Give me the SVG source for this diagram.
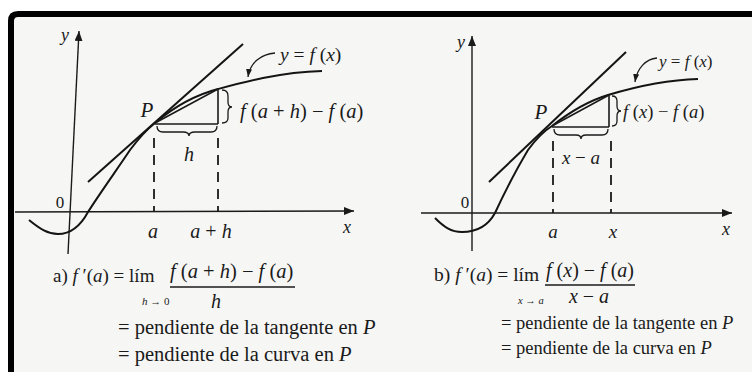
<svg xmlns="http://www.w3.org/2000/svg" width="752" height="372" viewBox="0 0 752 372" font-family="'Liberation Serif','Times New Roman',serif">
<defs>
<style>
text{font-family:"Liberation Serif","Times New Roman",serif;fill:#1a1a1a}
.i{font-style:italic}
.ax{stroke:#1a1a1a;stroke-width:1.4;fill:none}
.cv{stroke:#141414;stroke-width:2;fill:none}
.tg{stroke:#141414;stroke-width:2;fill:none}
.th{stroke:#1a1a1a;stroke-width:1.6;fill:none}
.ds{stroke:#1a1a1a;stroke-width:1.8;fill:none;stroke-dasharray:10 7}
.br{stroke:#1a1a1a;stroke-width:1.3;fill:none}
</style>
<marker id="ah" viewBox="0 0 10 8" refX="10" refY="4" markerWidth="10" markerHeight="8" markerUnits="userSpaceOnUse" orient="auto"><path d="M0,0 L10,4 L0,8 z" fill="#1a1a1a"/></marker>
<marker id="sh" viewBox="0 0 8 6" refX="8" refY="3" markerWidth="8" markerHeight="6" markerUnits="userSpaceOnUse" orient="auto"><path d="M0,0 L8,3 L0,6 z" fill="#1a1a1a"/></marker>
</defs>
<rect width="752" height="372" fill="#ffffff"/>
<rect x="14" y="17" width="738" height="355" fill="#f6f6f5"/>
<path d="M11,372 L11,21 Q11,14 18,14 L752,14" stroke="#000" stroke-width="6" fill="none"/>

<g id="panel-a">
  <g id="a-axes">
    <line class="ax" x1="68" y1="254" x2="79" y2="31" marker-end="url(#ah)"/>
    <line class="ax" x1="15" y1="212" x2="354" y2="211" marker-end="url(#ah)"/>
    <text class="i" x="65" y="41" font-size="18" text-anchor="middle">y</text>
    <text class="i" x="347" y="233" font-size="18" text-anchor="middle">x</text>
    <text x="60" y="208" font-size="17" text-anchor="middle">0</text>
  </g>
  <g id="a-curve">
    <path class="cv" d="M29,220 C40,229 48,234 58,234 C72,234 81,225 88,212 C98,196 118,168 130,150 C139,138 146,130 155,123 C175,106 195,95 218,89 C240,83 280,72 322,71"/>
  </g>
  <g id="a-tangent">
    <line class="tg" x1="88" y1="182" x2="243" y2="44"/>
  </g>
  <g id="a-secant">
    <line class="th" x1="155" y1="123" x2="218" y2="89"/>
    <line class="th" x1="155" y1="124" x2="218" y2="124"/>
    <line class="th" x1="218" y1="89" x2="218" y2="124"/>
    <line class="ds" x1="154" y1="138" x2="154" y2="211"/>
    <line class="ds" x1="218" y1="138" x2="218" y2="211"/>
  </g>
  <g id="a-braces">
    <path class="br" d="M157,126 Q157,132 163,132 L183,132 Q189,132 189,136 Q189,132 195,132 L211,132 Q217,132 217,126"/>
    <path class="br" d="M222,90 Q228,90 228,96 L228,102 Q228,107 232,107 Q228,107 228,112 L228,118 Q228,123 222,123"/>
  </g>
  <g id="a-labels">
    <text class="i" x="147" y="117" font-size="21" text-anchor="middle">P</text>
    <text class="i" x="189" y="161" font-size="20" text-anchor="middle">h</text>
    <text x="153" y="238" font-size="20" text-anchor="middle" class="i">a</text>
    <text x="211" y="238" font-size="20" text-anchor="middle"><tspan class="i">a</tspan> + <tspan class="i">h</tspan></text>
    <text x="240" y="118" font-size="20.5"><tspan class="i">f</tspan> (<tspan class="i">a</tspan> + <tspan class="i">h</tspan>) − <tspan class="i">f</tspan> (<tspan class="i">a</tspan>)</text>
    <text x="280" y="61" font-size="19.5"><tspan class="i">y</tspan> = <tspan class="i">f</tspan> (<tspan class="i">x</tspan>)</text>
  </g>
  <g id="a-formula">
    <text x="53" y="282" font-size="19">a) <tspan class="i">f</tspan> ′(<tspan class="i">a</tspan>) = lím</text>
    <text x="142" y="305" font-size="11"><tspan class="i">h</tspan> → 0</text>
    <text x="170" y="278" font-size="20.5"><tspan class="i">f</tspan> (<tspan class="i">a</tspan> + <tspan class="i">h</tspan>) − <tspan class="i">f</tspan> (<tspan class="i">a</tspan>)</text>
    <line class="th" x1="170" y1="287" x2="295" y2="287" stroke-width="1.2"/>
    <text class="i" x="216" y="308" font-size="20" text-anchor="middle">h</text>
    <text x="118" y="334" font-size="20.5">= pendiente de la tangente en <tspan class="i">P</tspan></text>
    <text x="118" y="361" font-size="20.5">= pendiente de la curva en <tspan class="i">P</tspan></text>
  </g>
</g>

<g id="panel-b">
  <g id="b-axes">
    <line class="ax" x1="472" y1="251" x2="472" y2="36" marker-end="url(#ah)"/>
    <line class="ax" x1="421" y1="213" x2="732" y2="213" marker-end="url(#ah)"/>
    <text class="i" x="461" y="48" font-size="18" text-anchor="middle">y</text>
    <text class="i" x="726" y="235" font-size="18" text-anchor="middle">x</text>
    <text x="465" y="208" font-size="17" text-anchor="middle">0</text>
  </g>
  <g id="b-curve">
    <path class="cv" d="M435,218 C444,227 451,232 462,232 C479,232 489,224 495,213 C502,198 516,170 528,150 C536,139 544,131 552,126 C571,111 588,101 608,95 C628,89 660,80 698,79"/>
  </g>
  <g id="b-tangent">
    <line class="tg" x1="489" y1="182" x2="626" y2="52"/>
  </g>
  <g id="b-secant">
    <line class="th" x1="552" y1="126" x2="609" y2="95"/>
    <line class="th" x1="552" y1="127" x2="609" y2="127"/>
    <line class="th" x1="609" y1="95" x2="609" y2="127"/>
    <line class="ds" x1="553" y1="141" x2="553" y2="213"/>
    <line class="ds" x1="611" y1="141" x2="611" y2="213"/>
  </g>
  <g id="b-braces">
    <path class="br" d="M554,129 Q554,135 560,135 L576,135 Q581,135 581,139 Q581,135 586,135 L602,135 Q608,135 608,129"/>
    <path class="br" d="M612,96 Q617,96 617,101 L617,106 Q617,111 621,111 Q617,111 617,116 L617,121 Q617,126 612,126"/>
  </g>
  <g id="b-labels">
    <text class="i" x="541" y="119" font-size="21" text-anchor="middle">P</text>
    <text x="581" y="164" font-size="19" text-anchor="middle"><tspan class="i">x</tspan> − <tspan class="i">a</tspan></text>
    <text class="i" x="553" y="238" font-size="19" text-anchor="middle">a</text>
    <text class="i" x="613" y="238" font-size="19" text-anchor="middle">x</text>
    <text x="623" y="118" font-size="18.5"><tspan class="i">f</tspan> (<tspan class="i">x</tspan>) − <tspan class="i">f</tspan> (<tspan class="i">a</tspan>)</text>
    <text x="659" y="67" font-size="17"><tspan class="i">y</tspan> = <tspan class="i">f</tspan> (<tspan class="i">x</tspan>)</text>
  </g>
  <g id="b-formula">
    <text x="434" y="281" font-size="19.5">b) <tspan class="i">f</tspan> ′(<tspan class="i">a</tspan>) = lím</text>
    <text class="i" x="518" y="304" font-size="10.5">x → a</text>
    <text x="546" y="277" font-size="20"><tspan class="i">f</tspan> (<tspan class="i">x</tspan>) − <tspan class="i">f</tspan> (<tspan class="i">a</tspan>)</text>
    <line class="th" x1="545" y1="285" x2="635" y2="285" stroke-width="1.2"/>
    <text x="589" y="303" font-size="20" text-anchor="middle"><tspan class="i">x</tspan> − <tspan class="i">a</tspan></text>
    <text x="501" y="329" font-size="18.5">= pendiente de la tangente en <tspan class="i">P</tspan></text>
    <text x="501" y="354" font-size="18.5">= pendiente de la curva en <tspan class="i">P</tspan></text>
  </g>
</g>

<g id="connectors">
  <path class="br" d="M275,53 C262,54 250,62 248,77" marker-end="url(#sh)"/>
  <path class="br" d="M657,58 C646,59 637,68 635,82" marker-end="url(#sh)"/>
</g>
</svg>
